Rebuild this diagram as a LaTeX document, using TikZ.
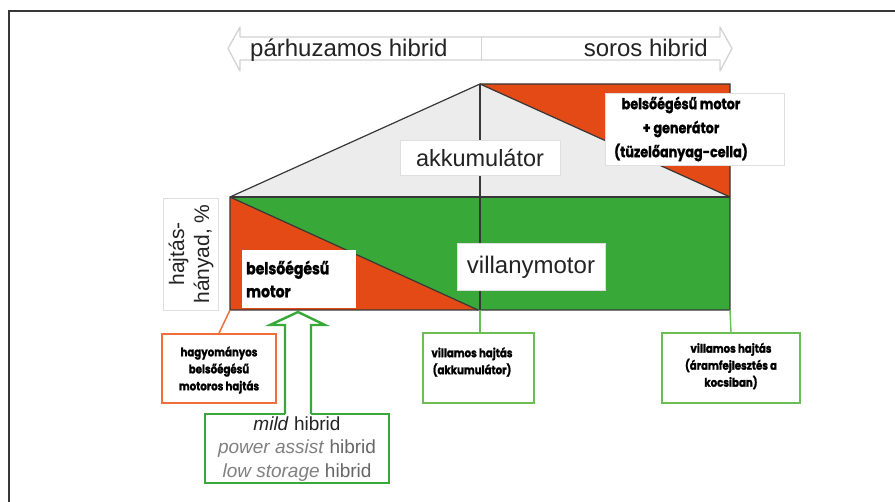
\documentclass[tikz,border=0pt]{standalone}
\usepackage{fontspec}
\setmainfont{Liberation Sans}
\newfontfamily\geo{Poppins}[FakeStretch=0.85, BoldFeatures={FakeBold=1.3}]
\definecolor{org}{RGB}{228,74,22}
\definecolor{grn}{RGB}{56,168,56}
\definecolor{lgray}{RGB}{236,236,236}
\definecolor{lgreen}{RGB}{105,190,85}
\definecolor{lorange}{RGB}{240,110,60}
\definecolor{dk}{RGB}{55,55,55}
\definecolor{txt}{RGB}{35,35,35}
\tikzset{
  wbox/.style={draw=gray!25, line width=0.8pt, fill=white, inner sep=0pt},
  sans/.style={text=txt, font=\fontsize{#1}{#1}\selectfont},
  geob/.style 2 args={text=black, align=center, inner sep=0pt, font=\geo\bfseries\fontsize{#1}{#2}\selectfont},
  obox/.style={draw=lorange, line width=1.6pt, fill=white, inner sep=0pt},
  gbox/.style={draw=lgreen, line width=1.4pt, fill=white, inner sep=0pt},
  edge/.style={dk, line width=1.2pt},
}
\begin{document}
\begin{tikzpicture}[x=1pt,y=-1pt]
\useasboundingbox (0,0) rectangle (895,502);
% outer frame
\draw[dk, line width=2pt] (9,520) -- (9,11) -- (910,11);

% top double arrow
\draw[gray!35, line width=1.3pt, fill=white, line join=round]
  (228,48.5) -- (240,27) -- (240,37) -- (720,37) -- (720,27) -- (732,48.5)
  -- (720,71) -- (720,60) -- (240,60) -- (240,71) -- cycle;
\coordinate (dtop) at (481,37);
\coordinate (dbot) at (481,60);
\draw[gray!35, line width=1pt] (dtop) -- (dbot);
\node[sans=24, anchor=base west, inner sep=0pt] (par) at (250,57) {párhuzamos hibrid};
\node[sans=24, anchor=base east, inner sep=0pt] (sor) at (708,57) {soros hibrid};

% diagram areas
\coordinate (L) at (230,197);
\coordinate (A) at (480,84);
\coordinate (TR) at (730,84);
\coordinate (R) at (730,197);
\coordinate (bl) at (230,310);
\coordinate (bm) at (480,310);
\coordinate (br) at (730,310);
\fill[lgray] (L) -- (A) -- (R) -- cycle;
\fill[org] (A) -- (TR) -- (R) -- cycle;
\fill[grn] (L) rectangle (br);
\fill[org] (L) -- (bl) -- (478,310) -- cycle;
\draw[edge] (L) -- (A) -- (TR) -- (br) -- (bl) -- cycle;
\draw[edge] (L) -- (R);
\draw[edge] (A) -- (R);
\draw[edge] (L) -- (478,310);
\draw[edge] (A) -- (bm);

% labels inside
\node[wbox, minimum width=160, minimum height=35] (akk) at (480,157.5) {};
\node[sans=23.5] (akkt) at (480,158) {akkumulátor};
\node[wbox, minimum width=148, minimum height=47] (vm) at (531,266.5) {};
\node[sans=24] (vmt) at (531,267) {villanymotor};
\node[wbox, minimum width=179, minimum height=72] (genbox) at (694.5,129) {};
\node[geob={15}{24}] (gen) at (681,129)
  {belsőégésű motor\\+ generátor\\(tüzelőanyag-cella)};
\node[wbox, draw=white, minimum width=113, minimum height=57] (bmbox) at (298.5,278.5) {};
\node[geob={16.5}{23}, align=left, anchor=west] (bmt) at (246,279)
  {belsőégésű\\motor};
\node[wbox, minimum width=55, minimum height=112] (hbox) at (190.5,254) {};
\node[text=txt, font=\fontsize{21}{25}\selectfont, rotate=90, align=center, inner sep=0pt] (ht) at (191,254)
  {hajtás-\\hányad, \%};

% bottom boxes
\node[obox, minimum width=114, minimum height=69] (ob) at (219,368.5) {};
\node[geob={12}{17}] (obt) at (219,370)
  {hagyományos\\belsőégésű\\motoros hajtás};
\node[gbox, minimum width=111, minimum height=70] (g1) at (478.5,368) {};
\node[geob={12}{17}] (g1t) at (472,362)
  {villamos hajtás\\(akkumulátor)};
\node[gbox, minimum width=138, minimum height=70] (g2) at (731,368) {};
\node[geob={12}{17}] (g2t) at (731,366)
  {villamos hajtás\\(áramfejlesztés a\\kocsiban)};
\node[draw=grn, line width=2.4pt, fill=white, minimum width=184, minimum height=69, inner sep=0pt] (mild) at (297,448.5) {};
\node[text=txt, font=\fontsize{19}{23.5}\selectfont, align=center, inner sep=0pt] (mildt) at (297,449)
  {\textit{mild} hibrid\\{\color{gray}\textit{power assist}} {\color{gray!80!black}hibrid}\\{\color{gray}\textit{low storage}} {\color{gray!80!black}hibrid}};

% connectors
\draw[lorange, line width=1.5pt] (bl) -- (ob.north);
\draw[lgreen, line width=1.4pt] (bm) -- (bm |- g1.north);
\draw[lgreen, line width=1.4pt] (br) -- (g2.north);
% hollow arrow from mild box
\fill[white] (285,416) -- (285,325) -- (270,325) -- (298,312) -- (325,325) -- (311,325) -- (311,416) -- cycle;
\draw[grn, line width=2.4pt, line join=miter] (285,414) -- (285,325) -- (270,325) -- (298,312) -- (325,325) -- (311,325) -- (311,414);
\end{tikzpicture}
\end{document}
